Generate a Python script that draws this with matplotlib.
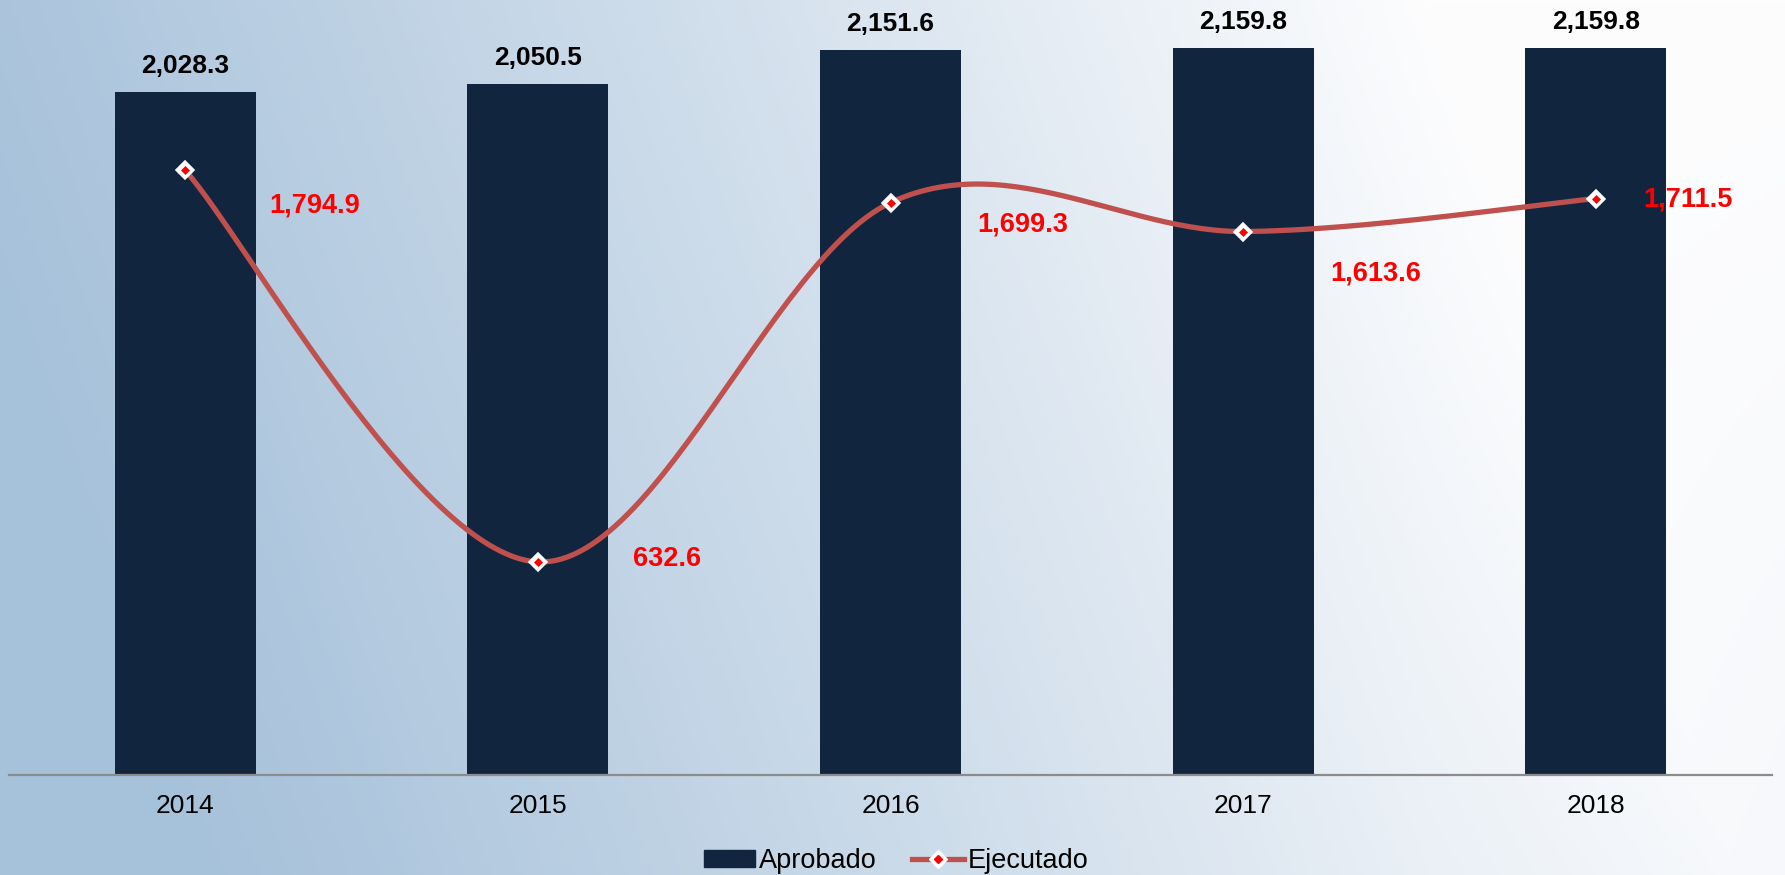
import numpy as np
import matplotlib
matplotlib.use("Agg")
import matplotlib.pyplot as plt
from matplotlib.patches import Patch
from matplotlib.lines import Line2D

plt.rcParams['font.family'] = ['Liberation Sans', 'DejaVu Sans']

years = ["2014", "2015", "2016", "2017", "2018"]
aprobado = [2028.3, 2050.5, 2151.6, 2159.8, 2159.8]
ejecutado = [1794.9, 632.6, 1699.3, 1613.6, 1711.5]
aprobado_labels = ["2,028.3", "2,050.5", "2,151.6", "2,159.8", "2,159.8"]
ejecutado_labels = ["1,794.9", "632.6", "1,699.3", "1,613.6", "1,711.5"]
# label offsets (pixels) for the red data labels
ej_offsets = [(129, -35), (129, 3), (132, -22), (133, -42), (92, -1)]

BAR = "#12253f"
LINE = "#c0504d"

W, H = 1785, 875
fig = plt.figure(figsize=(W / 100, H / 100), dpi=100)

# background gradient
bg = fig.add_axes([0, 0, 1, 1], zorder=-10)
yy, xx = np.mgrid[0:1:200j, 0:1:400j]
t = np.clip(xx * 1.15 + (1 - yy) * 0.2 - 0.12, 0, 1) ** 1.1
t = np.clip(t - 0.1 * yy * np.clip((xx - 0.8) * 4, 0, 1), 0, 1)
left = np.array([166, 193, 218]) / 255.0
right = np.array([253, 253, 254]) / 255.0
img = left[None, None, :] * (1 - t[..., None]) + right[None, None, :] * t[..., None]
bg.imshow(img, extent=[0, 1, 0, 1], aspect='auto', origin='upper')
bg.axis('off')

ax = fig.add_axes([9 / W, 1 - 775 / H, (1772 - 9) / W, 775 / H])
ax.patch.set_alpha(0)
x = np.arange(len(years))
ax.bar(x, aprobado, width=0.4, color=BAR, zorder=2)
ax.set_xlim(-0.5, 4.5)
ax.set_ylim(0, 2301)

# Excel-style smoothed line (Bezier with 1/6 tension)
px = x.astype(float)
py = np.array(ejecutado, dtype=float)
sx, sy = [], []
n = len(px)
for i in range(n - 1):
    p0 = (px[max(i - 1, 0)], py[max(i - 1, 0)])
    p1 = (px[i], py[i])
    p2 = (px[i + 1], py[i + 1])
    p3 = (px[min(i + 2, n - 1)], py[min(i + 2, n - 1)])
    c1 = (p1[0] + (p2[0] - p0[0]) / 6, p1[1] + (p2[1] - p0[1]) / 6)
    c2 = (p2[0] - (p3[0] - p1[0]) / 6, p2[1] - (p3[1] - p1[1]) / 6)
    tt = np.linspace(0, 1, 60)
    b = [(1 - tt) ** 3, 3 * (1 - tt) ** 2 * tt, 3 * (1 - tt) * tt ** 2, tt ** 3]
    sx.extend(b[0] * p1[0] + b[1] * c1[0] + b[2] * c2[0] + b[3] * p2[0])
    sy.extend(b[0] * p1[1] + b[1] * c1[1] + b[2] * c2[1] + b[3] * p2[1])
ax.plot(sx, sy, color=LINE, lw=3.8, zorder=3, solid_capstyle='round')
ax.plot(px, py, ls='none', marker='D', ms=9.5, mfc='white', mec='white', mew=1.2, zorder=4)
ax.plot(px, py, ls='none', marker='D', ms=3.6, mfc='red', mec='red', mew=0.5, zorder=5)

for xi, v, lab in zip(x, aprobado, aprobado_labels):
    ax.annotate(lab, (xi, v), xytext=(0, 26), textcoords='offset pixels',
                ha='center', va='center', fontsize=19, fontweight='bold', color='black')
for xi, v, lab, off in zip(x, ejecutado, ejecutado_labels, ej_offsets):
    ax.annotate(lab, (xi, v), xytext=off, textcoords='offset pixels',
                ha='center', va='center', fontsize=19.5, fontweight='bold', color='red')

for s in ['top', 'right', 'left']:
    ax.spines[s].set_visible(False)
ax.spines['bottom'].set_color('#8c8c8c')
ax.spines['bottom'].set_linewidth(1.6)
ax.set_yticks([])
ax.set_xticks(x)
ax.set_xticklabels(years, fontsize=19)
ax.tick_params(axis='x', length=0, pad=14)

h_bar = Patch(facecolor=BAR, edgecolor=BAR)
h_line = Line2D([], [], color=LINE, lw=3.8, marker='D', ms=9.5, mfc='white', mec='white')
h_in = Line2D([], [], ls='none', marker='D', ms=3.6, mfc='red', mec='red')
fig.legend([h_bar, (h_line, h_in)], ["Aprobado", "Ejecutado"], loc='center',
           bbox_to_anchor=(0.502, 14 / H), ncol=2, frameon=False, fontsize=19.5,
           handlelength=1.9, handletextpad=0.15, columnspacing=1.3, numpoints=1,
           borderpad=0, handleheight=0.55)

fig.savefig("out.png", dpi=100)
